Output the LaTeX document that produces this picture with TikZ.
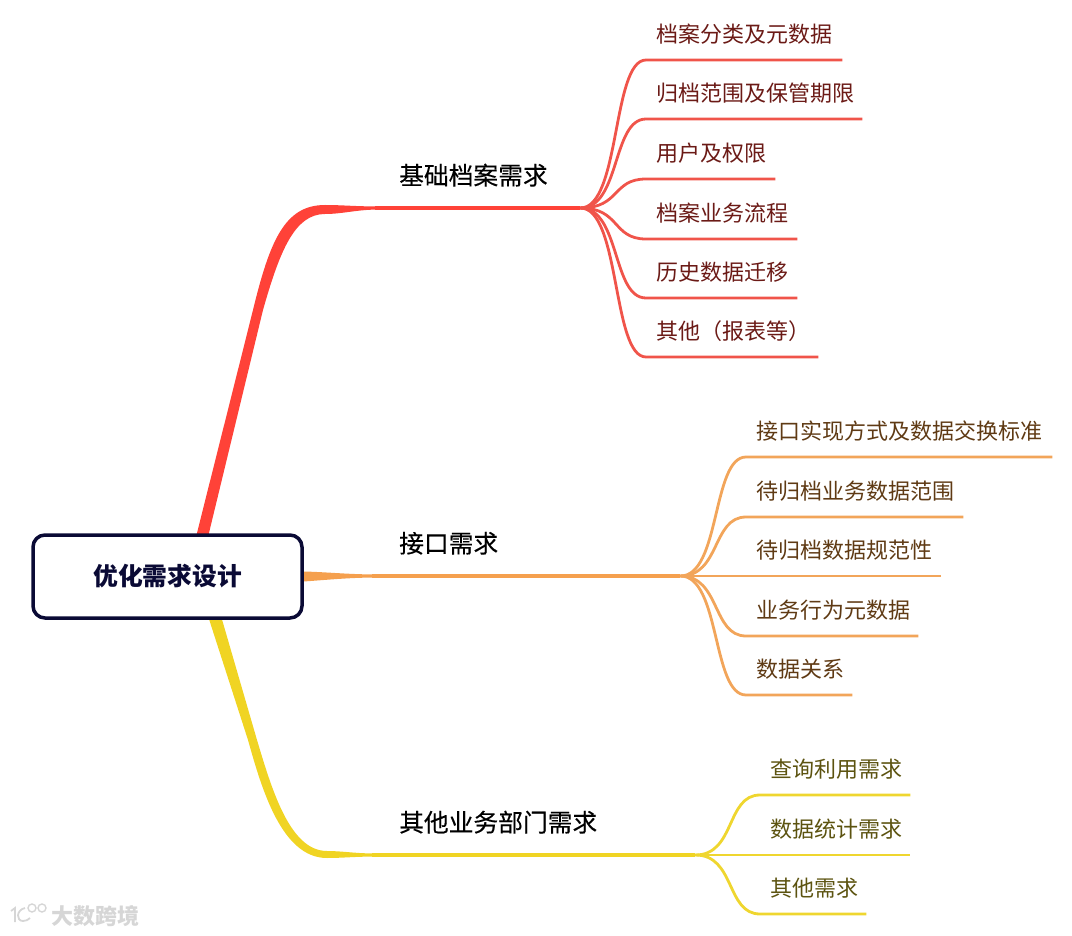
\documentclass[tikz,border=0pt]{standalone}
\usepackage{fontspec}
\setmainfont{Noto Sans CJK SC}
\newfontfamily\midfont[FakeBold=0.25]{Noto Sans CJK SC}
\usetikzlibrary{backgrounds,calc}
\definecolor{rootc}{HTML}{0A0A35}
\definecolor{redm}{HTML}{FF4238}
\definecolor{redl}{HTML}{F0544A}
\definecolor{redt}{HTML}{6B1A16}
\definecolor{orgm}{HTML}{F5A04E}
\definecolor{orgl}{HTML}{F2A55A}
\definecolor{orgt}{HTML}{5F3A14}
\definecolor{yelm}{HTML}{F0D423}
\definecolor{yell}{HTML}{EFD62F}
\definecolor{yelt}{HTML}{5C5310}
\definecolor{markc}{HTML}{D6D6D6}
\tikzset{
  rootbox/.style={draw=rootc,fill=white,line width=3.5pt,rounded corners=12pt,
    minimum width=269pt,minimum height=83pt,inner sep=0pt,text=rootc,
    font=\fontsize{24.75}{28}\selectfont\bfseries},
  branchlabel/.style={anchor=south west,inner ysep=0pt,text=black,
    text height=22pt,text depth=23.2pt,font=\fontsize{24.75}{28}\midfont},
  leaflabel/.style={anchor=south west,inner xsep=10pt,inner ysep=0pt,
    text height=19pt,text depth=17.3pt,font=\fontsize{22}{26}\selectfont,align=left},
  redleaf/.style={leaflabel,text=redt},
  orgleaf/.style={leaflabel,text=orgt},
  yelleaf/.style={leaflabel,text=yelt},
  wire/.style={line width=2.8pt,line cap=butt,line join=round},
  stem/.style={line width=3.2pt,line cap=butt},
  mark text/.style={text=markc,inner sep=0pt,font=\fontsize{22}{24}\selectfont\bfseries},
  mark line/.style={draw=markc,line width=1.8pt}
}
\begin{document}
\begin{tikzpicture}[x=1pt,y=-1pt]
\useasboundingbox (0,0) rectangle (1072,936);
\node[rootbox] (root) at (167.5,576.5) {\raisebox{-0.8pt}{优化需求设计}};
% first level
\node[branchlabel,inner xsep=24pt,text width=157pt] (b1) at (375,208) {基础档案需求};
\node[branchlabel,inner xsep=27pt,text width=254pt] (b2) at (372,576) {接口需求};
\node[branchlabel,inner xsep=27pt,text width=269pt] (b3) at (372,855) {其他业务部门需求};
% red leaves
\node[redleaf,text width=176pt] (r1) at (646,60)  {\mbox{档案分类及元数据}};
\node[redleaf,text width=196pt] (r2) at (646,119) {\mbox{归档范围及保管期限}};
\node[redleaf,text width=109pt] (r3) at (646,179) {\mbox{用户及权限}};
\node[redleaf,text width=131pt] (r4) at (646,239) {\mbox{档案业务流程}};
\node[redleaf,text width=131pt] (r5) at (646,298) {\mbox{历史数据迁移}};
\node[redleaf,text width=152pt] (r6) at (646,357) {\mbox{其他（报表等）}};
% orange leaves
\node[orgleaf,text width=286pt] (o1) at (746,457) {\mbox{接口实现方式及数据交换标准}};
\node[orgleaf,text width=197pt] (o2) at (746,517) {\mbox{待归档业务数据范围}};
\node[orgleaf,text width=175pt] (o3) at (746,576) {\mbox{待归档数据规范性}};
\node[orgleaf,text width=152pt] (o4) at (746,636) {\mbox{业务行为元数据}};
\node[orgleaf,text width=86pt]  (o5) at (746,695) {\mbox{数据关系}};
% yellow leaves
\node[yelleaf,text width=130pt] (y1) at (760,795) {\mbox{查询利用需求}};
\node[yelleaf,text width=130pt] (y2) at (760,855) {\mbox{数据统计需求}};
\node[yelleaf,text width=86pt]  (y3) at (760,914) {\mbox{其他需求}};
% watermark
\node[mark text,anchor=west] (wm) at (51,916.5) {大数跨境};
\draw[mark line] (11,911) -- (15,908) -- (15,922);
\draw[mark line] (25,908) .. controls (16,910) and (16,921) .. (23,921) .. controls (26,921) and (28,920) .. (30,918);
\draw[mark line,line width=1.4pt] (32,908) circle (4);
\draw[mark line,line width=1.4pt] (42,908) circle (4);
\begin{pgfonlayer}{background}
  % tapered main branches
  \fill[redm] (196,537) -- (253,310) .. controls (270,240) and (285,205) .. (325,205)
     .. controls (342,205) and (355,206.4) .. ($(b1.south west)+(0,-1.6)$)
     -- ++(0,3.2) .. controls (355,210) and (342,214) .. (325,214)
     .. controls (295,214) and (280,250) .. (263,310) -- (208,537) -- cycle;
  \fill[orgm] ($(root.east)+(0,-5)$) .. controls (325,572) and (350,574.4) .. ($(b2.south west)+(0,-1.6)$)
     -- ++(0,3.2) .. controls (350,577.6) and (325,580) .. ($(root.east)+(0,5)$) -- cycle;
  \fill[yelm] (208,616) -- (248,740) .. controls (262,790) and (282,858) .. (327,858)
     .. controls (342,858) and (355,856.6) .. ($(b3.south west)+(0,1.6)$)
     -- ++(0,-3.2) .. controls (355,853.4) and (342,851) .. (327,851)
     .. controls (290,851) and (272,790) .. (257,740) -- (221,616) -- cycle;
  % red wires
  \draw[stem,redm] (b1.south west) -- (b1.south east);
  \foreach \n in {r1,r2,r3,r4,r5,r6}
    \draw[wire,redl] (b1.south east) .. controls +(40,0) and +(-34,0) .. (\n.south west) -- (\n.south east);
  % orange wires
  \draw[stem,orgm] (b2.south west) -- (b2.south east);
  \foreach \n in {o1,o2,o3,o4,o5}
    \draw[wire,orgl] (b2.south east) .. controls +(40,0) and +(-34,0) .. (\n.south west) -- (\n.south east);
  % yellow wires
  \draw[stem,yelm] (b3.south west) -- (b3.south east);
  \foreach \n in {y1,y2,y3}
    \draw[wire,yell] (b3.south east) .. controls +(40,0) and +(-34,0) .. (\n.south west) -- (\n.south east);
\end{pgfonlayer}
\end{tikzpicture}
\end{document}
